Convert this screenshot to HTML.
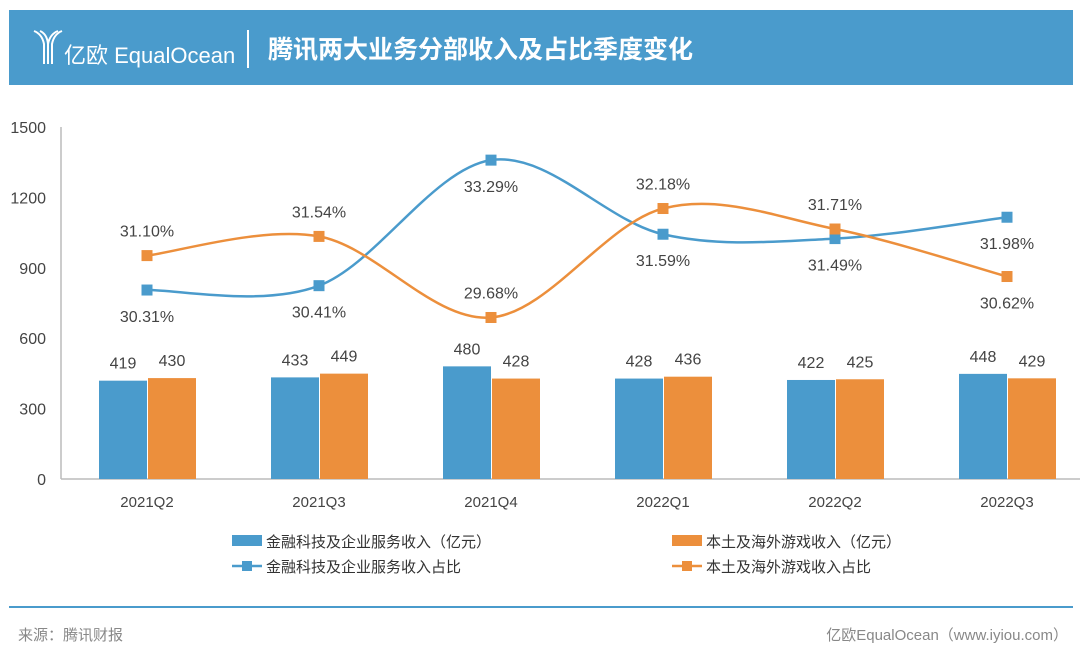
<!DOCTYPE html>
<html><head><meta charset="utf-8"><style>
body{margin:0;width:1080px;height:661px;background:#fff;overflow:hidden;font-family:"Liberation Sans","Noto Sans CJK SC",sans-serif}
#hdr{position:absolute;left:9px;top:10px;width:1064px;height:75px;background:#4a9bcc}
</style></head><body>
<div id="hdr"></div>
<svg id="c" width="1080" height="661" style="position:absolute;left:0;top:0">
<g fill="none" stroke="#fff" stroke-width="2">
<path d="M34 31 Q42 34 44 44 L44 64 M40 31 Q47 34 48 44 L48 64 M58 31 Q50 34 48 44 M62 31 Q54 34 52 44 L52 64"/>
</g>
<text x="64" y="63" fill="#fff" font-size="22">亿欧 EqualOcean</text>
<line x1="248" y1="30" x2="248" y2="68" stroke="#fff" stroke-width="2"/>
<text x="268" y="58" fill="#fff" font-size="25" font-weight="bold">腾讯两大业务分部收入及占比季度变化</text>
<g id="plot"></g>
<g font-size="15" fill="#333">
<rect x="232" y="535" width="30" height="11" fill="#4a9bcc"/>
<text x="266" y="547">金融科技及企业服务收入（亿元）</text>
<rect x="672" y="535" width="30" height="11" fill="#ec8f3c"/>
<text x="706" y="547">本土及海外游戏收入（亿元）</text>
<line x1="232" y1="566" x2="262" y2="566" stroke="#4a9bcc" stroke-width="2.5"/><rect x="242" y="561" width="10" height="10" fill="#4a9bcc"/>
<text x="266" y="572">金融科技及企业服务收入占比</text>
<line x1="672" y1="566" x2="702" y2="566" stroke="#ec8f3c" stroke-width="2.5"/><rect x="682" y="561" width="10" height="10" fill="#ec8f3c"/>
<text x="706" y="572">本土及海外游戏收入占比</text>
</g>
<line x1="9" y1="607" x2="1073" y2="607" stroke="#4a9bcc" stroke-width="2"/>
<text x="18" y="640" font-size="15" fill="#888">来源：腾讯财报</text>
<text x="1068" y="640" font-size="15" fill="#888" text-anchor="end">亿欧EqualOcean（www.iyiou.com）</text>
</svg>
<script>
const categories=["2021Q2","2021Q3","2021Q4","2022Q1","2022Q2","2022Q3"];
const fintechRevenue=[419,433,480,428,422,448];
const gameRevenue=[430,449,428,436,425,429];
const fintechShare=[30.31,30.41,33.29,31.59,31.49,31.98];
const gameShare=[31.10,31.54,29.68,32.18,31.71,30.62];
const yTicks=[0,300,600,900,1200,1500];
const NS="http://www.w3.org/2000/svg";
const g=document.getElementById('plot');
const x0=61,step=172,yB=479,yT=127;
const y=v=>yB-(v/1500)*(yB-yT);
const p=v=>yB-(v-25.975)/(34.05-25.975)*(yB-yT);
const cx=i=>x0+step*(i+0.5);
function mk(t,a,txt){const e=document.createElementNS(NS,t);for(const k in a)e.setAttribute(k,a[k]);if(txt!=null)e.textContent=txt;g.appendChild(e);return e;}
yTicks.forEach(v=>{const e=mk('text',{x:46,y:y(v)+6,'text-anchor':'end','font-size':16,fill:'#444'},v);

});
let ax=mk('line',{x1:x0,y1:yT,x2:x0,y2:yB,stroke:'#bbb','stroke-width':1.5});


let bx=mk('line',{x1:x0,y1:yB,x2:x0+step*6,y2:yB,stroke:'#bbb','stroke-width':1.5});


categories.forEach((c,i)=>{
 const t=mk('text',{x:cx(i),y:507,'text-anchor':'middle','font-size':15,fill:'#444'},c);
 
 
 const b1=mk('rect',{x:cx(i)-48,y:y(fintechRevenue[i]),width:48,height:yB-y(fintechRevenue[i]),fill:'#4a9bcc'});
 
 
 const b2=mk('rect',{x:cx(i)+1,y:y(gameRevenue[i]),width:48,height:yB-y(gameRevenue[i]),fill:'#ec8f3c'});
 
 
 const l1=mk('text',{x:cx(i)-24,y:y(fintechRevenue[i])-12,'text-anchor':'middle','font-size':16,fill:'#444'},fintechRevenue[i]);
 
 
 const l2=mk('text',{x:cx(i)+25,y:y(gameRevenue[i])-12,'text-anchor':'middle','font-size':16,fill:'#444'},gameRevenue[i]);
 
 
});
function spline(pts){let d=`M${pts[0][0]},${pts[0][1]}`;const k=0.5/3*2;
 for(let i=0;i<pts.length-1;i++){const p0=pts[Math.max(i-1,0)],p1=pts[i],p2=pts[i+1],p3=pts[Math.min(i+2,pts.length-1)];
 d+=` C${p1[0]+(p2[0]-p0[0])*k/2},${p1[1]+(p2[1]-p0[1])*k/2} ${p2[0]-(p3[0]-p1[0])*k/2},${p2[1]-(p3[1]-p1[1])*k/2} ${p2[0]},${p2[1]}`;}
 return d;}
function series(vals,color,name,above){
 const pts=vals.map((v,i)=>[cx(i),p(v)]);
 const l=mk('path',{d:spline(pts),fill:'none',stroke:color,'stroke-width':2.5});
 
 
 pts.forEach((q,i)=>{const m=mk('rect',{x:q[0]-5.5,y:q[1]-5.5,width:11,height:11,fill:color});
 
 
 const up=above[i];
 const t=mk('text',{x:q[0],y:up?q[1]-19:q[1]+32,'text-anchor':'middle','font-size':16,fill:'#444'},vals[i].toFixed(2)+'%');
 
 });
}
series(fintechShare,'#4a9bcc','fintech-share',[false,false,false,false,false,false]);
series(gameShare,'#ec8f3c','games-share',[true,true,true,true,true,false]);
</script>
</body></html>
